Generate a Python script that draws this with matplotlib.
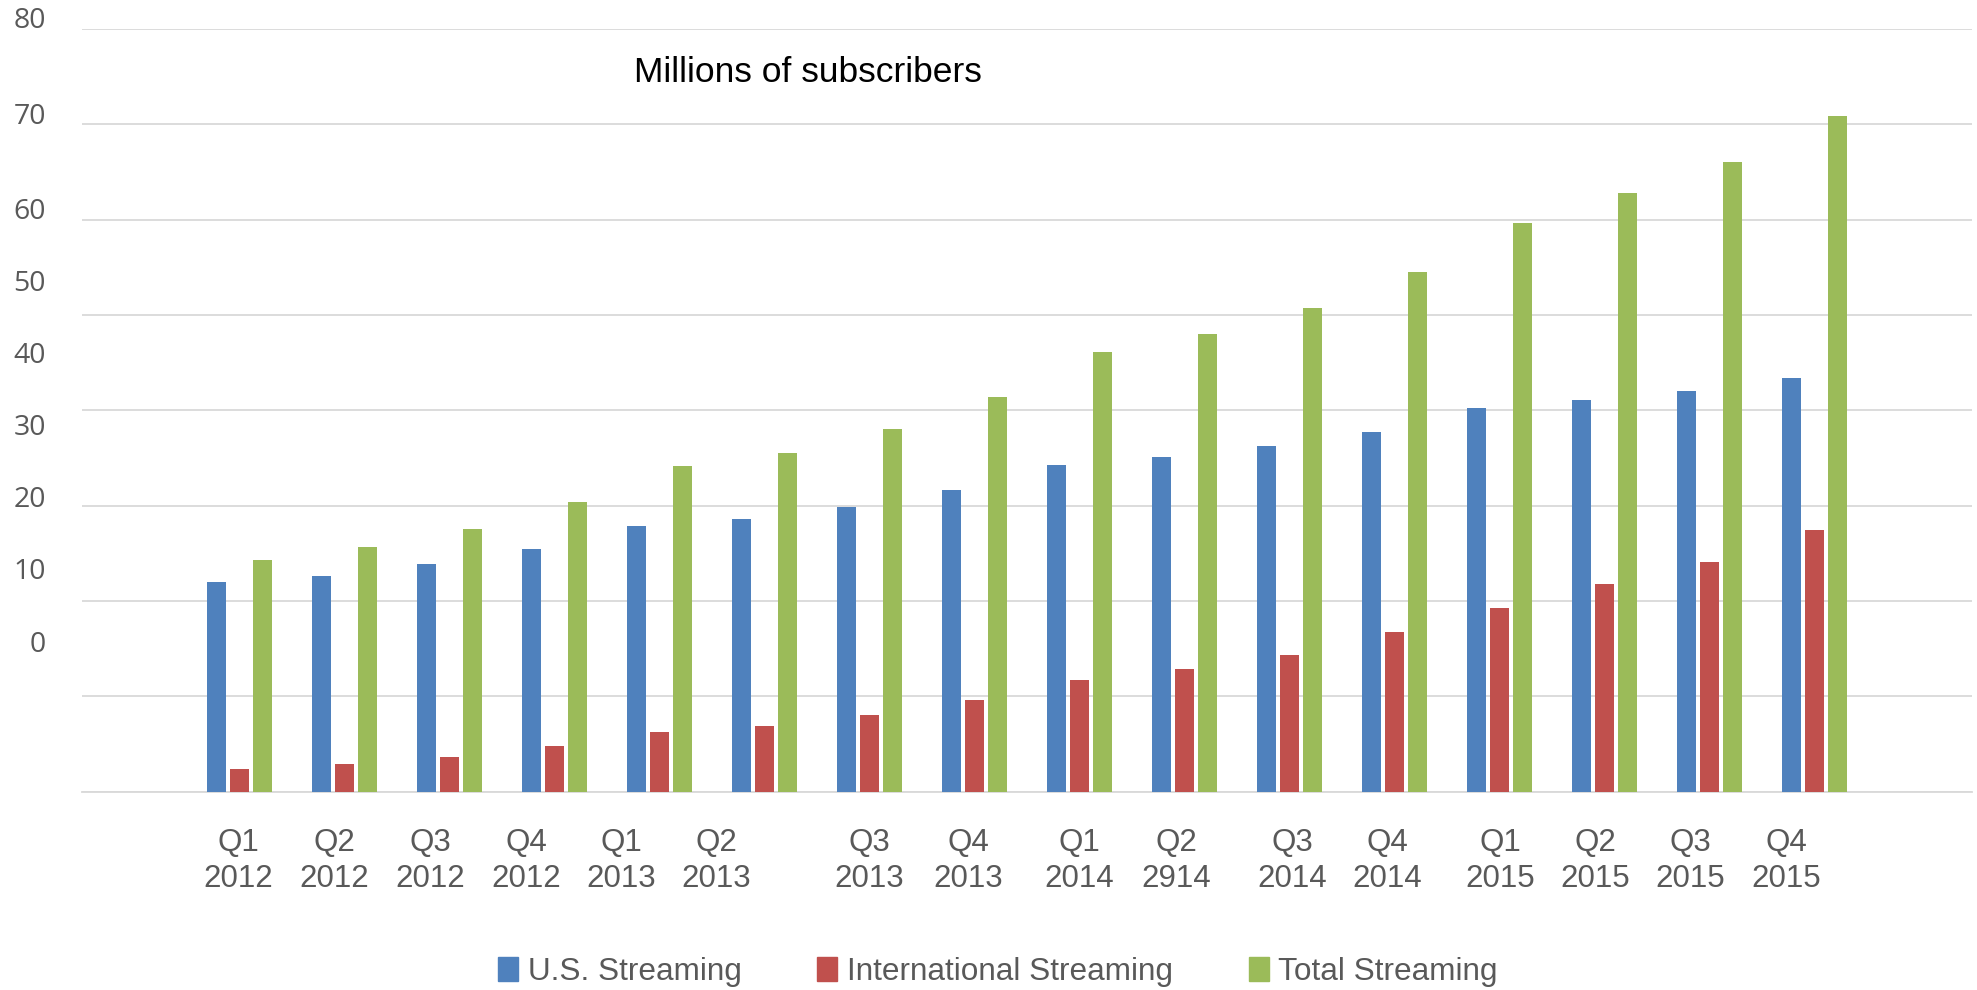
import matplotlib.pyplot as plt
import numpy as np
from matplotlib.patches import Patch

# quarterly subscribers, millions
quarters = ["Q1\n2012", "Q2\n2012", "Q3\n2012", "Q4\n2012",
            "Q1\n2013", "Q2\n2013", "Q3\n2013", "Q4\n2013",
            "Q1\n2014", "Q2\n2914", "Q3\n2014", "Q4\n2014",
            "Q1\n2015", "Q2\n2015", "Q3\n2015", "Q4\n2015"]
us_streaming = [22.0, 22.6, 23.9, 25.5, 27.9, 28.6, 29.9, 31.6,
                34.3, 35.1, 36.3, 37.7, 40.2, 41.1, 42.0, 43.4]
intl_streaming = [2.4, 2.9, 3.6, 4.8, 6.3, 6.9, 8.0, 9.6,
                  11.7, 12.9, 14.3, 16.7, 19.3, 21.8, 24.1, 27.4]
total_streaming = [24.3, 25.7, 27.6, 30.4, 34.2, 35.5, 38.0, 41.4,
                   46.1, 48.0, 50.7, 54.5, 59.7, 62.8, 66.1, 70.9]
y_labels = ["80", "70", "60", "50", "40", "30", "20", "10", "0"]

# where the labels sit on the canvas (pixels from top-left)
y_label_px = [21, 117, 212, 284, 356, 428, 500, 572, 645]
x_label_px = [238, 334, 430, 526, 621, 716, 869, 968,
              1079, 1176, 1292, 1387, 1500, 1595, 1690, 1786]

W, H = 1977, 990
blue, red, green = "#4f81bd", "#c0504d", "#9bbb59"
grey = "#595959"

fig = plt.figure(figsize=(W / 100, H / 100), dpi=100)
ax = fig.add_axes([82 / W, 198.4 / H, 1890 / W, 762.4 / H])

x = np.arange(len(quarters))
w = 0.181
step = 0.219
ax.bar(x - step, us_streaming, w, color=blue, zorder=3)
ax.bar(x, intl_streaming, w, color=red, zorder=3)
ax.bar(x + step, total_streaming, w, color=green, zorder=3)

ax.set_xlim(-1.5, 16.5)
ax.set_ylim(0, 80)
ax.set_yticks(np.arange(0, 81, 10))
ax.yaxis.grid(True, color="#d9d9d9", lw=1.3, zorder=0)
ax.tick_params(left=False, bottom=False, labelleft=False, labelbottom=False)
for s in ["left", "right", "top"]:
    ax.spines[s].set_visible(False)
ax.spines["bottom"].set_color("#d9d9d9")
ax.spines["bottom"].set_linewidth(1.3)

for lab, py in zip(y_labels, y_label_px):
    fig.text(46 / W, 1 - py / H, lab, ha="right", va="center",
             fontsize=20.5, color=grey, family=["Open Sans", "DejaVu Sans"])

for lab, px in zip(quarters, x_label_px):
    fig.text(px / W, 1 - 861 / H, lab, ha="center", va="center",
             fontsize=22.5, color=grey, family=["Liberation Sans", "DejaVu Sans"],
             linespacing=1.25)

fig.text(634 / W, 1 - 72 / H, "Millions of subscribers", ha="left", va="center",
         fontsize=25.5, color="black", family=["Liberation Sans", "DejaVu Sans"])

handles = [Patch(color=blue, label="U.S. Streaming"),
           Patch(color=red, label="International Streaming"),
           Patch(color=green, label="Total Streaming")]
fig.legend(handles=handles, loc="center", bbox_to_anchor=(998 / W, 18 / H),
           ncol=3, frameon=False, borderpad=0, handlelength=0.63,
           handleheight=0.75, handletextpad=0.31, columnspacing=2.4,
           prop={"family": "Liberation Sans", "size": 22.7}, labelcolor=grey)

fig.savefig("out.png", dpi=100)
